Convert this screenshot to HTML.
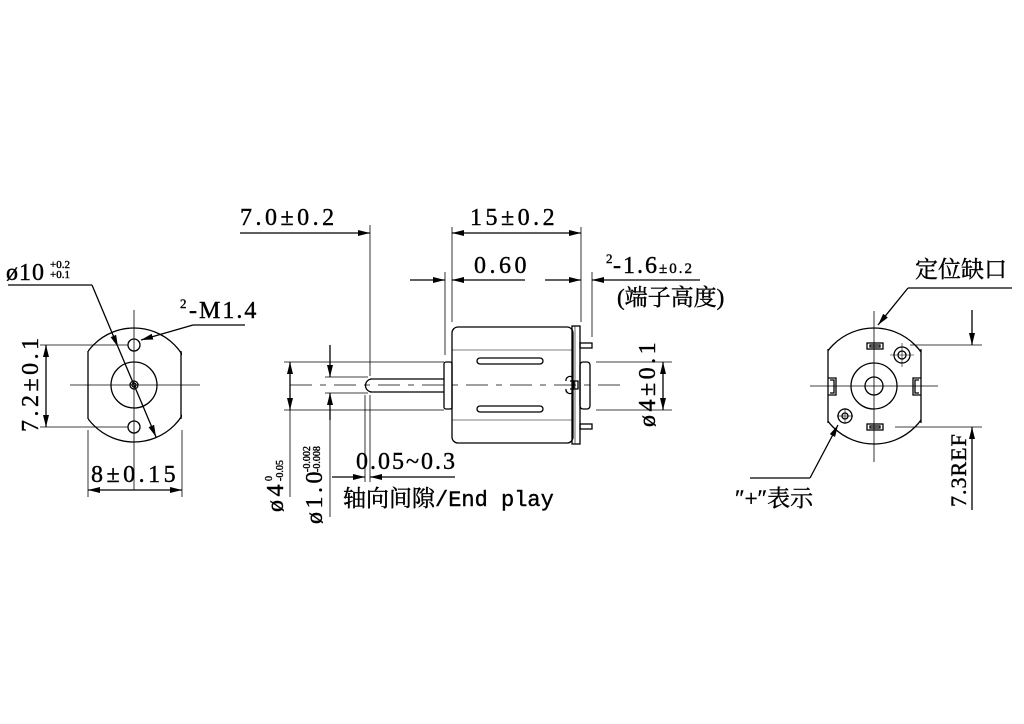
<!DOCTYPE html>
<html><head><style>
html,body{margin:0;padding:0;background:#fff;}
svg{display:block}
text{font-family:"Liberation Serif","Noto Serif CJK SC",serif;fill:#000;stroke:#000;stroke-width:0.4;}
</style></head><body>
<svg width="1024" height="724" viewBox="0 0 1024 724" xmlns="http://www.w3.org/2000/svg">
<defs>
<marker id="a" viewBox="0 0 12 6" refX="12" refY="3" markerWidth="12" markerHeight="6" orient="auto" markerUnits="userSpaceOnUse"><path d="M0,0 L12,3 L0,6 z" fill="#000" stroke="none"/></marker>
<clipPath id="cl"><rect x="88" y="300" width="94" height="170"/></clipPath>
<clipPath id="cr"><rect x="828" y="300" width="93" height="170"/></clipPath>
</defs>
<g stroke="#000" stroke-width="1.3" fill="none">
<!-- LEFT VIEW -->
<circle cx="134" cy="385" r="57" clip-path="url(#cl)"/>
<line x1="88" y1="351" x2="88" y2="419"/><line x1="181" y1="351" x2="181" y2="419"/>
<circle cx="134" cy="385" r="23"/>
<circle cx="134" cy="385" r="4"/><circle cx="134" cy="385" r="2"/>
<circle cx="134" cy="345" r="6"/><circle cx="134" cy="427" r="6"/>
<line x1="70" y1="385" x2="200" y2="385" stroke-width="0.8"/>
<line x1="134" y1="310" x2="134" y2="490" stroke-width="0.8"/>
<line x1="40" y1="345" x2="128" y2="345" stroke-width="0.8"/>
<line x1="40" y1="427" x2="128" y2="427" stroke-width="0.8"/>
<line x1="46" y1="385" x2="46" y2="345" marker-end="url(#a)"/>
<line x1="46" y1="385" x2="46" y2="427" marker-end="url(#a)"/>
<line x1="88" y1="430" x2="88" y2="497" stroke-width="0.8"/>
<line x1="182" y1="430" x2="182" y2="497" stroke-width="0.8"/>
<line x1="134" y1="490" x2="88" y2="490" marker-end="url(#a)"/>
<line x1="134" y1="490" x2="182" y2="490" marker-end="url(#a)"/>
<line x1="8" y1="285" x2="92" y2="285"/>
<line x1="92" y1="285" x2="118" y2="347" marker-end="url(#a)"/>
<line x1="118" y1="347" x2="156" y2="437" marker-end="url(#a)"/>
<line x1="245" y1="325" x2="193" y2="325"/>
<line x1="193" y1="325" x2="141" y2="340" marker-end="url(#a)"/>

<!-- MIDDLE VIEW -->
<rect x="452" y="327" width="121" height="116" rx="6"/>
<line x1="452" y1="350" x2="572" y2="350" stroke-width="0.6"/>
<line x1="452" y1="420" x2="572" y2="420" stroke-width="0.6"/>
<rect x="572" y="326" width="8" height="118"/>
<line x1="575" y1="326" x2="575" y2="444" stroke-width="0.6"/>
<rect x="580" y="343" width="12" height="5"/>
<rect x="580" y="424" width="12" height="5"/>
<rect x="580" y="362" width="10" height="47" rx="3"/>
<rect x="444" y="362" width="8" height="47" rx="2"/>
<rect x="477" y="358" width="66" height="6" rx="3"/>
<rect x="477" y="406" width="66" height="6" rx="3"/>
<path d="M572,377 a4,4 0 0 0 -6,4 M572,393 a4,4 0 0 1 -6,-4 M570,381 h8 v8 h-8 M574,381 v8"/>
<path d="M370,379 L444,379 M370,392 L444,392 M372,379 a6,6 0 0 0 0,13"/>
<line x1="290" y1="385" x2="625" y2="385" stroke-width="0.8" stroke-dasharray="22,8,6,8"/>
<!-- top dims -->
<line x1="452" y1="227" x2="452" y2="322" stroke-width="0.8"/>
<line x1="581" y1="227" x2="581" y2="322" stroke-width="0.8"/>
<line x1="515" y1="233" x2="452" y2="233" marker-end="url(#a)"/>
<line x1="515" y1="233" x2="581" y2="233" marker-end="url(#a)"/>
<line x1="240" y1="233" x2="370" y2="233" marker-end="url(#a)"/>
<line x1="370" y1="225" x2="370" y2="376" stroke-width="0.8"/>
<line x1="370" y1="395" x2="370" y2="482" stroke-width="0.8"/>
<line x1="365" y1="395" x2="365" y2="482" stroke-width="0.8"/>
<line x1="445" y1="272" x2="445" y2="355" stroke-width="0.8"/>
<line x1="410" y1="280" x2="445" y2="280" marker-end="url(#a)"/>
<line x1="525" y1="280" x2="452" y2="280" marker-end="url(#a)"/>
<line x1="545" y1="280" x2="581" y2="280" marker-end="url(#a)"/>
<line x1="592" y1="272" x2="592" y2="337" stroke-width="0.8"/>
<line x1="700" y1="280" x2="592" y2="280" marker-end="url(#a)"/>
<!-- right dim -->
<line x1="596" y1="362" x2="672" y2="362" stroke-width="0.8"/>
<line x1="596" y1="410" x2="672" y2="410" stroke-width="0.8"/>
<line x1="663" y1="386" x2="663" y2="362" marker-end="url(#a)"/>
<line x1="663" y1="386" x2="663" y2="410" marker-end="url(#a)"/>
<!-- left dims -->
<line x1="284" y1="362" x2="444" y2="362" stroke-width="0.8"/>
<line x1="284" y1="410" x2="444" y2="410" stroke-width="0.8"/>
<line x1="290" y1="386" x2="290" y2="362" marker-end="url(#a)"/>
<line x1="290" y1="386" x2="290" y2="410" marker-end="url(#a)"/>
<line x1="290" y1="410" x2="290" y2="497" stroke-width="0.8"/>
<line x1="325" y1="377" x2="368" y2="377" stroke-width="0.8"/>
<line x1="325" y1="393" x2="368" y2="393" stroke-width="0.8"/>
<line x1="330" y1="345" x2="330" y2="377" marker-end="url(#a)"/>
<line x1="330" y1="420" x2="330" y2="393" marker-end="url(#a)"/>
<line x1="330" y1="420" x2="330" y2="517" stroke-width="0.8"/>
<line x1="332" y1="477" x2="365" y2="477" marker-end="url(#a)"/>
<line x1="455" y1="477" x2="370" y2="477" marker-end="url(#a)"/>

<!-- RIGHT VIEW -->
<circle cx="874" cy="386" r="58" clip-path="url(#cr)"/>
<line x1="828" y1="349" x2="828" y2="423"/><line x1="921" y1="349" x2="921" y2="423"/>
<circle cx="874" cy="386" r="23"/><circle cx="874" cy="386" r="9"/>
<line x1="810" y1="386" x2="938" y2="386" stroke-width="0.8"/>
<line x1="874" y1="311" x2="874" y2="462" stroke-width="0.8"/>
<rect x="867" y="343" width="16" height="6"/><rect x="870" y="345" width="10" height="2"/>
<rect x="867" y="424" width="16" height="6"/><rect x="870" y="426" width="10" height="2"/>
<path d="M828,378 h8 v17 h-8 M830,380 h4 v13 h-4"/>
<path d="M921,378 h-8 v17 h8 M919,380 h-4 v13 h4"/>
<circle cx="902" cy="355" r="8"/><circle cx="902" cy="355" r="4"/>
<line x1="890" y1="355" x2="914" y2="355" stroke-width="0.6"/><line x1="902" y1="343" x2="902" y2="367" stroke-width="0.6"/>
<circle cx="845" cy="416" r="7"/><circle cx="845" cy="416" r="3"/>
<line x1="837" y1="416" x2="853" y2="416" stroke-width="0.6"/><line x1="845" y1="408" x2="845" y2="424" stroke-width="0.6"/>
<line x1="1012" y1="288" x2="908" y2="288"/>
<line x1="908" y1="288" x2="878" y2="325" marker-end="url(#a)"/>
<line x1="910" y1="345" x2="982" y2="345" stroke-width="0.8"/>
<line x1="895" y1="427" x2="982" y2="427" stroke-width="0.8"/>
<line x1="972" y1="310" x2="972" y2="345" marker-end="url(#a)"/>
<line x1="972" y1="510" x2="972" y2="427" marker-end="url(#a)"/>
<line x1="750" y1="478" x2="810" y2="478"/>
<line x1="810" y1="478" x2="838" y2="425" marker-end="url(#a)"/>
</g>
<g font-size="24" letter-spacing="3.5">
<text x="6" y="280" letter-spacing="1">ø10</text>
<text x="50" y="268" font-size="11" letter-spacing="0" stroke-width="0.2">+0.2</text>
<text x="50" y="278" font-size="11" letter-spacing="0" stroke-width="0.2">+0.1</text>
<text x="180" y="308" font-size="13" letter-spacing="0">2</text>
<text x="189" y="318" letter-spacing="2">-M1.4</text>
<text transform="translate(38,432) rotate(-90)">7.2±0.1</text>
<text x="91" y="482">8±0.15</text>
<text x="240" y="225">7.0±0.2</text>
<text x="470" y="225">15±0.2</text>
<text x="474" y="273">0.60</text>
<text x="606" y="263" font-size="13" letter-spacing="0">2</text>
<text x="613" y="273" letter-spacing="2">-1.6<tspan font-size="15">±0.2</tspan></text>
<text x="617" y="305" font-size="23" letter-spacing="0">(端子高度)</text>
<text transform="translate(655,427) rotate(-90)">ø4±0.1</text>
<text transform="translate(283,512) rotate(-90)">ø4</text>
<text transform="translate(272,481) rotate(-90)" font-size="10" letter-spacing="0" stroke-width="0.2">0</text>
<text transform="translate(283,481) rotate(-90)" font-size="10" letter-spacing="0" stroke-width="0.2">-0.05</text>
<text transform="translate(322,524) rotate(-90)">ø1.0</text>
<text transform="translate(310,472) rotate(-90)" font-size="10" letter-spacing="0" stroke-width="0.2">-0.002</text>
<text transform="translate(320,472) rotate(-90)" font-size="10" letter-spacing="0" stroke-width="0.2">-0.008</text>
<text x="356" y="469" letter-spacing="2">0.05~0.3</text>
<text x="343" y="506" font-size="23" letter-spacing="0">轴向间隙<tspan font-family="Liberation Mono, monospace" font-size="22">/End play</tspan></text>
<text x="915" y="277" font-size="23" letter-spacing="0">定位缺口</text>
<text x="735" y="506" font-size="23" letter-spacing="0">″+″表示</text>
<text transform="translate(966,507) rotate(-90)" font-size="22" letter-spacing="1">7.3REF</text>
</g>
</svg>
</body></html>
